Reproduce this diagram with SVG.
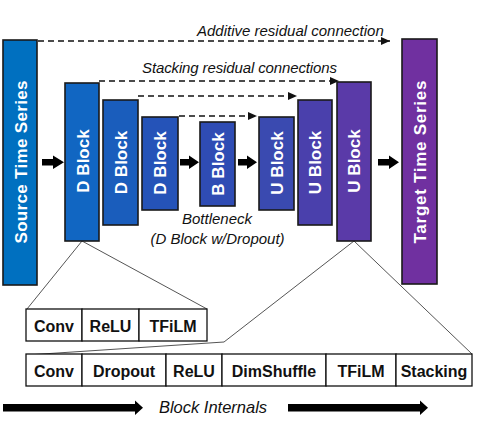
<svg xmlns="http://www.w3.org/2000/svg" width="479" height="434" viewBox="0 0 479 434">
<style>
.blk{stroke:#1a1a1a;stroke-width:1.6}
.vt{font-family:"Liberation Sans",Arial,sans-serif;font-weight:bold;font-size:17px;fill:#fff;text-anchor:middle}
.lbl{font-family:"Liberation Sans",Arial,sans-serif;font-style:italic;font-size:15px;fill:#111}
.box{fill:#fff;stroke:#111;stroke-width:1.3}
.bt{font-family:"Liberation Sans",Arial,sans-serif;font-weight:bold;font-size:16px;fill:#111;text-anchor:middle}
.dash{stroke:#111;stroke-width:1.6;stroke-dasharray:6 4;fill:none}
.tri{stroke:#555;stroke-width:1;fill:none}
.arr{fill:#000}
</style>
<defs>
<marker id="ah" markerUnits="userSpaceOnUse" markerWidth="10" markerHeight="8" refX="9" refY="4" orient="auto">
<path d="M0,0 L9,4 L0,8 Z" fill="#111"/>
</marker>
</defs>
<g id="connectors">
<line class="dash" x1="38" y1="41" x2="390" y2="41" marker-end="url(#ah)"/>
<line class="dash" x1="99" y1="81" x2="339" y2="81" marker-end="url(#ah)"/>
<line class="dash" x1="138" y1="96" x2="297" y2="96" marker-end="url(#ah)"/>
<line class="dash" x1="179" y1="116" x2="257" y2="116" marker-end="url(#ah)"/>
<path class="arr" d="M42,159 L53,159 L53,155.5 L64,162.3 L53,169 L53,165.5 L42,165.5 Z"/>
<path class="arr" d="M180,159 L189,159 L189,155.5 L199,162.3 L189,169 L189,165.5 L180,165.5 Z"/>
<path class="arr" d="M238,159 L247,159 L247,155.5 L257,162.3 L247,169 L247,165.5 L238,165.5 Z"/>
<path class="arr" d="M378,159 L389,159 L389,155.5 L399,162.3 L389,169 L389,165.5 L378,165.5 Z"/>
<polyline class="tri" points="27,309 82,241 207,309"/>
<polyline class="tri" points="27,355 224,342 354,241 472,354"/>
<path class="arr" d="M3,404 L135,404 L135,400.5 L143,407.8 L135,415 L135,411.5 L3,411.5 Z"/>
<path class="arr" d="M288,404 L420,404 L420,400.5 L428,407.8 L420,415 L420,411.5 L288,411.5 Z"/>
</g>
<text class="lbl" x="197" y="36">Additive residual connection</text>
<text class="lbl" x="142" y="73" textLength="195">Stacking residual connections</text>
<g id="source"><rect class="blk" x="3" y="40" width="34" height="245" fill="#0070C0"/>
<text class="vt" transform="translate(26.5,162) rotate(-90)" textLength="163">Source Time Series</text></g>
<g id="d1"><rect class="blk" x="65" y="83" width="34" height="158" fill="#1166C2"/>
<text class="vt" transform="translate(88.5,161) rotate(-90)">D Block</text></g>
<g id="d2"><rect class="blk" x="103" y="100" width="35" height="125" fill="#1A5DBC"/>
<text class="vt" transform="translate(126.5,162.5) rotate(-90)">D Block</text></g>
<g id="d3"><rect class="blk" x="142" y="117" width="36" height="93" fill="#2553B8"/>
<text class="vt" transform="translate(166,163) rotate(-90)">D Block</text></g>
<g id="b"><rect class="blk" x="200" y="122" width="35" height="84" fill="#2F4CB4"/>
<text class="vt" transform="translate(223.5,164) rotate(-90)">B Block</text></g>
<g id="u1"><rect class="blk" x="259" y="117" width="35" height="93" fill="#3A4AB0"/>
<text class="vt" transform="translate(282.5,163) rotate(-90)">U Block</text></g>
<g id="u2"><rect class="blk" x="298" y="100" width="34" height="125" fill="#4A40AC"/>
<text class="vt" transform="translate(321,162.5) rotate(-90)">U Block</text></g>
<g id="u3"><rect class="blk" x="337" y="82" width="34" height="159" fill="#5A3AA8"/>
<text class="vt" transform="translate(360,161) rotate(-90)">U Block</text></g>
<g id="target"><rect class="blk" x="402" y="39" width="35" height="245" fill="#7030A0"/>
<text class="vt" transform="translate(425.5,162) rotate(-90)" textLength="163">Target Time Series</text></g>
<text class="lbl" x="217" y="224" text-anchor="middle">Bottleneck</text>
<text class="lbl" x="217.5" y="244" text-anchor="middle">(D Block w/Dropout)</text>
<g id="dblock-internals">
<rect class="box" x="26" y="309" width="56" height="32"/>
<rect class="box" x="82" y="309" width="57" height="32"/>
<rect class="box" x="139" y="309" width="68" height="32"/>
<text class="bt" x="54" y="332">Conv</text>
<text class="bt" x="110.5" y="332">ReLU</text>
<text class="bt" x="173" y="332">TFiLM</text>
</g>
<g id="ublock-internals">
<rect class="box" x="26" y="354" width="56" height="32"/>
<rect class="box" x="82" y="354" width="84" height="32"/>
<rect class="box" x="166" y="354" width="56" height="32"/>
<rect class="box" x="222" y="354" width="104" height="32"/>
<rect class="box" x="326" y="354" width="70" height="32"/>
<rect class="box" x="396" y="354" width="76" height="32"/>
<text class="bt" x="54" y="377">Conv</text>
<text class="bt" x="124" y="377">Dropout</text>
<text class="bt" x="194" y="377">ReLU</text>
<text class="bt" x="274" y="377">DimShuffle</text>
<text class="bt" x="361" y="377">TFiLM</text>
<text class="bt" x="434" y="377">Stacking</text>
</g>
<text class="lbl" x="213" y="413" text-anchor="middle" style="font-size:16.5px">Block Internals</text>
</svg>
